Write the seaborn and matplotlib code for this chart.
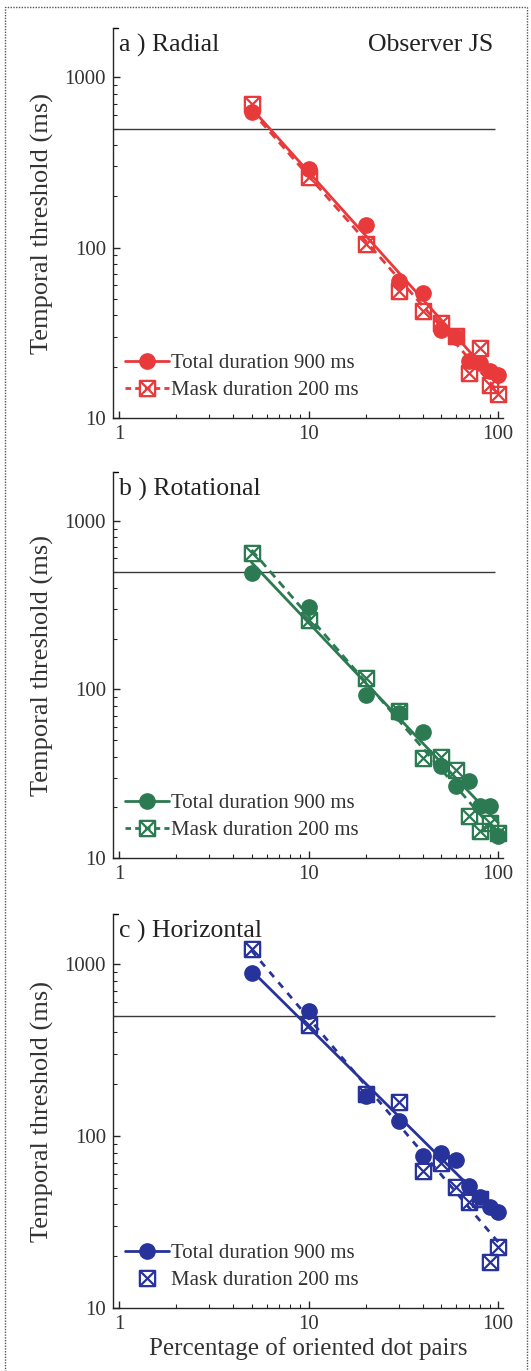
import numpy as np
import pandas as pd
import matplotlib
matplotlib.use("Agg")
import matplotlib.pyplot as plt
import seaborn as sns
from matplotlib.path import Path
from matplotlib.lines import Line2D
from matplotlib.patches import Rectangle
from matplotlib.ticker import LogLocator, FixedLocator, FixedFormatter, NullFormatter

# ---- data -------------------------------------------------------------
pct = [5, 10, 20, 30, 40, 50, 60, 70, 80, 90, 100]

radial_total = [630, 290, 136, 64, 54, 33, 30, 21.5, 21, 19, 18]
radial_mask = [695, 260, 105, 56, 42.5, 36, 30.5, 18.3, 25.7, 15.6, 13.8]

rot_total = [494, 309, 93, 72, 55.6, 35, 26.6, 28.5, 20.4, 20.4, 13.5]
rot_mask = [648, 258, 117, 74.6, 39, 39.6, 33.4, 17.8, 14.5, 16.2, 14.1]

horiz_total = [887, 534, 170, 122, 76, 80, 72, 51, 44, 38.7, 36]
horiz_mask = [1224, 440, 175, 157, 62.6, 69.6, 50.5, 41.5, 42.8, 18.6, 22.6]

panel_titles = ["a ) Radial", "b ) Rotational", "c ) Horizontal"]
series_labels = ["Total duration 900 ms", "Mask duration 200 ms"]
criterion_ms = 500
x_ticks = [1, 10, 100]
y_ticks = [10, 100, 1000]

colors = ["#e8393b", "#2b7a52", "#27339a"]

# ---- style ------------------------------------------------------------
sns.set_style("ticks")
plt.rcParams["font.family"] = ["Liberation Serif", "DejaVu Serif"]
plt.rcParams["axes.linewidth"] = 1.0

W, H = 531, 1371
fig = plt.figure(figsize=(W / 100, H / 100), dpi=100)

# square with a cross inside
boxx = Path(
    [(-1, -1), (1, -1), (1, 1), (-1, 1), (-1, -1), (-1, -1), (1, 1), (-1, 1), (1, -1)],
    [Path.MOVETO, Path.LINETO, Path.LINETO, Path.LINETO, Path.CLOSEPOLY,
     Path.MOVETO, Path.LINETO, Path.MOVETO, Path.LINETO],
)

# axes rectangles in pixels: (top, bottom)
rects = [(28, 418), (472, 858), (914, 1308)]
x_left_px, x_right_px = 113, 503

panels = [
    (radial_total, radial_mask),
    (rot_total, rot_mask),
    (horiz_total, horiz_mask),
]

XLIM = (0.93, 106)
YLIM = (10, 1950)
MS = 11


def power_fit(x, y):
    lx, ly = np.log10(x), np.log10(y)
    slope, icpt = np.polyfit(lx, ly, 1)
    xs = np.array([min(x), max(x)], dtype=float)
    return xs, 10 ** (icpt + slope * np.log10(xs))


for i, ((tot, msk), (top, bot)) in enumerate(zip(panels, rects)):
    col = colors[i]
    ax = fig.add_axes([x_left_px / W, 1 - bot / H,
                       (x_right_px - x_left_px) / W, (bot - top) / H])
    ax.set_xscale("log")
    ax.set_yscale("log")
    ax.set_xlim(*XLIM)
    ax.set_ylim(*YLIM)

    df = pd.DataFrame({"pct": pct, "total": tot, "mask": msk})

    # reference criterion
    ax.hlines(criterion_ms, XLIM[0], 96, color="#3a3a3a", lw=1.0, zorder=1)

    # power-law fits
    fx, fy = power_fit(df["pct"], df["total"])
    sns.lineplot(x=fx, y=fy, ax=ax, color=col, lw=2.0, estimator=None,
                 sort=False, legend=False, zorder=2)
    gx, gy = power_fit(df["pct"], df["mask"])
    ls = (0, (3, 2)) if i < 2 else (0, (2.5, 2.5))
    sns.lineplot(x=gx, y=gy, ax=ax, color=col, lw=2.0, linestyle=ls,
                 estimator=None, sort=False, legend=False, zorder=2)

    # data points
    sns.lineplot(data=df, x="pct", y="total", ax=ax, color=col, linestyle="none",
                 marker="o", markersize=MS, mfc=col, mec=col, mew=1.0,
                 estimator=None, sort=False, legend=False, zorder=3, clip_on=False)
    sns.lineplot(data=df, x="pct", y="mask", ax=ax, color=col, linestyle="none",
                 marker=boxx, markersize=MS, mfc="none", mec=col, mew=1.6,
                 estimator=None, sort=False, legend=False, zorder=4, clip_on=False)

    # axes cosmetics
    sns.despine(ax=ax)
    ax.xaxis.set_major_locator(FixedLocator(x_ticks))
    ax.xaxis.set_major_formatter(FixedFormatter([str(v) for v in x_ticks]))
    ax.xaxis.set_minor_locator(LogLocator(base=10, subs=np.arange(2, 10)))
    ax.xaxis.set_minor_formatter(NullFormatter())
    ax.yaxis.set_major_locator(FixedLocator(y_ticks))
    ax.yaxis.set_major_formatter(FixedFormatter([str(v) for v in y_ticks]))
    ax.yaxis.set_minor_locator(LogLocator(base=10, subs=np.arange(2, 10)))
    ax.yaxis.set_minor_formatter(NullFormatter())
    ax.tick_params(which="major", direction="in", length=5, width=1.0,
                   labelsize=15, labelcolor="#333333", pad=5)
    ax.tick_params(which="minor", direction="in", length=3, width=0.8)
    ax.set_xlabel("")
    ax.set_ylabel("Temporal threshold (ms)", fontsize=19, color="#333333")
    ax.yaxis.set_label_coords(-0.15, 0.5)

    # small cap at the top of the y axis
    ax.plot([0, 0.012], [1, 1], transform=ax.transAxes, color="k", lw=1.0,
            clip_on=False)

    ax.text(0.015, 0.985, panel_titles[i], transform=ax.transAxes, fontsize=18.5,
            ha="left", va="top", color="#222222")
    if i == 0:
        ax.text(0.975, 0.985, "Observer JS", transform=ax.transAxes, fontsize=18.5,
                ha="right", va="top", color="#222222")

    h_total = Line2D([], [], color=col, lw=2.0, marker="o", ms=MS, mfc=col, mec=col)
    if i < 2:
        h_mask = Line2D([], [], color=col, lw=2.0, linestyle=(0, (2, 1.5)),
                        marker=boxx, ms=MS, mfc="none", mec=col, mew=1.6)
    else:
        h_mask = Line2D([], [], color=col, lw=0, marker=boxx, ms=MS,
                        mfc="none", mec=col, mew=1.6)
    ax.legend([h_total, h_mask], series_labels, loc="lower left",
              bbox_to_anchor=(0.01, 0.025), frameon=False, fontsize=15,
              handlelength=2.1, handletextpad=0.1, labelspacing=0.35,
              borderaxespad=0.0, labelcolor="#333333")

    if i == 2:
        ax.set_xlabel("Percentage of oriented dot pairs", fontsize=18,
                      color="#333333", labelpad=2)

# dotted frame around the whole figure
fig.patches.append(Rectangle((5 / W, -0.01), (527 - 5) / W, 1 - 7 / H + 0.01,
                             transform=fig.transFigure, fill=False,
                             linestyle=(0, (1, 1)), lw=1.0, ec="#555555"))

fig.savefig("out.png", dpi=100)
